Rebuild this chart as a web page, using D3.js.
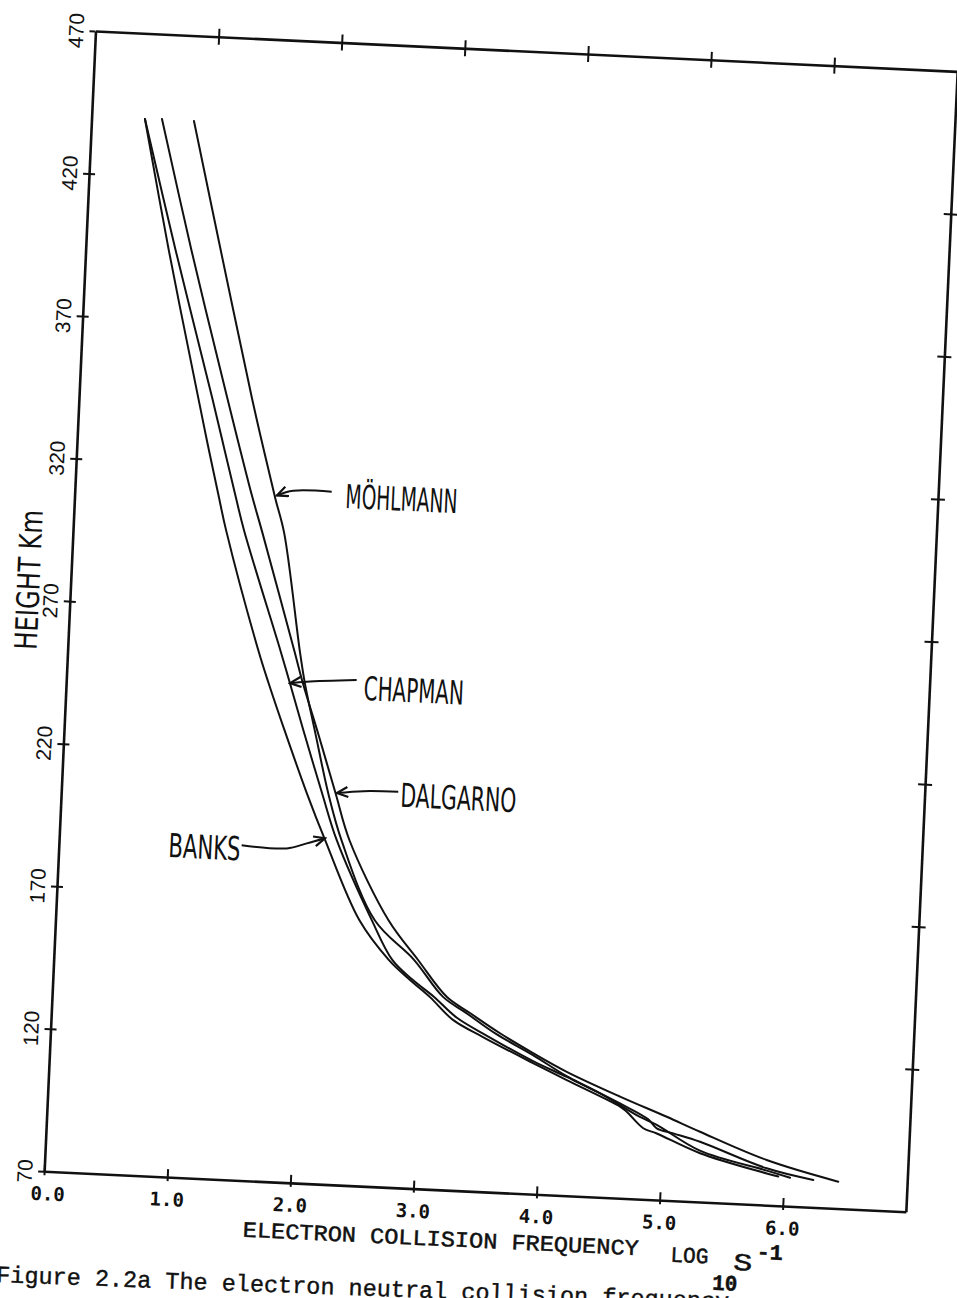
<!DOCTYPE html>
<html>
<head>
<meta charset="utf-8">
<script src="https://cdn.jsdelivr.net/npm/d3@7"></script>
<style>
  html, body { margin: 0; padding: 0; background: #fff; }
  svg { display: block; }
</style>
</head>
<body>
<script>
// Height axis (km) and collision-frequency axis (log10 s^-1)
const heightTicks = [70, 120, 170, 220, 270, 320, 370, 420, 470];
const heightInnerTicks = [120, 170, 220, 270, 320, 370, 420];
const freqTicks = [0, 1, 2, 3, 4, 5, 6];
const freqTickLabels = ["0.0", "1.0", "2.0", "3.0", "4.0", "5.0", "6.0"];
const freqTopTicks = [1, 2, 3, 4, 5, 6];

// Each profile: [log10 collision frequency, height km]
const banks = [
  [0.433, 440], [0.674, 394.5], [0.965, 343.6], [1.072, 325.2], [1.166, 309.6],
  [1.240, 297.5], [1.545, 256.0], [1.640, 244.7], [1.796, 227.4], [1.990, 206.8],
  [2.156, 190.6], [2.463, 163.1], [2.718, 149.6], [2.896, 143.0], [3.064, 137.3],
  [3.259, 129.7], [3.508, 124.2], [3.923, 115.9], [4.203, 110.5], [4.645, 102.1],
  [4.701, 100.4], [4.841, 94.9], [4.952, 93.3], [5.310, 87.1], [5.858, 81.1],
  [5.953, 80.2]
];
const chapman = [
  [0.433, 440], [0.730, 394.5], [1.078, 343.8], [1.201, 325.2], [1.305, 309.5],
  [1.388, 297.4], [1.725, 256.2], [1.815, 244.8], [1.950, 227.4], [2.115, 206.9],
  [2.251, 190.7], [2.564, 163.3], [2.745, 149.7], [2.920, 143.0], [3.095, 137.5],
  [3.290, 130.5], [3.540, 124.7], [3.923, 116.6], [4.202, 111.6], [4.478, 106.4],
  [4.810, 98.8], [4.949, 96.3], [5.308, 88.0], [5.857, 82.1], [6.049, 80.0]
];
const dalgarno = [
  [0.571, 440.3], [0.860, 394.5], [1.200, 344.0], [1.330, 325.2], [1.441, 309.5],
  [1.534, 297.4], [1.838, 256.3], [1.920, 245.0], [2.064, 227.4], [2.225, 207.0],
  [2.355, 190.8], [2.700, 163.5], [2.954, 150.1], [3.202, 137.6], [3.394, 132.4],
  [3.645, 125.8], [3.920, 119.4], [4.200, 113.4], [4.641, 105.6], [5.027, 99.3],
  [5.302, 94.6], [5.853, 85.8], [6.441, 79.4]
];
const mohlmann = [
  [0.831, 440.1], [1.100, 394.5], [1.402, 344.1], [1.523, 325.2], [1.629, 309.2],
  [1.713, 297.3], [1.884, 256.0], [1.936, 245.0], [2.041, 227.4], [2.165, 207.0],
  [2.290, 190.7], [2.590, 163.2], [2.921, 150.1], [3.170, 137.6], [3.362, 132.4],
  [3.613, 125.5], [3.920, 118.7], [4.201, 111.9], [4.643, 103.2], [4.878, 98.1],
  [4.950, 95.1], [5.086, 93.6], [5.306, 91.1], [5.856, 82.9], [6.238, 79.6]
];

// Curve labels and the arrows that point at them (data units)
const labelNames = ["MÖHLMANN", "CHAPMAN", "DALGARNO", "BANKS"];
const labelAnchors = [[2.197, 307.1], [2.415, 240.2], [2.751, 203.4], [0.889, 182.0]];
const labelWidths = [112, 100, 116, 72];
const arrowPaths = [
  [[2.083, 312.6], [1.771, 312.3], [1.640, 310.4]],
  [[2.354, 247.1], [1.950, 245.7], [1.815, 244.9]],
  [[2.732, 208.7], [2.450, 208.3], [2.235, 207.2]],
  [[1.482, 187.4], [1.848, 187.0], [2.009, 189.1], [2.155, 191.2]]
];

const pageW = 957, pageH = 1298;
const W = 862, H = 1141;
const ink = "#111";

const svg = d3.select("body").append("svg")
  .attr("width", pageW).attr("height", pageH)
  .attr("viewBox", `0 0 ${pageW} ${pageH}`);

svg.append("rect").attr("width", pageW).attr("height", pageH).attr("fill", "#fff");

const x = d3.scaleLinear().domain([0, 7]).range([0, W]);
const y = d3.scaleLinear().domain([70, 470]).range([H, 0]);

// The whole plotted sheet sits slightly tilted on the page
const g = svg.append("g")
  .attr("transform", "matrix(0.99965,0.04687,-0.0450,0.99943,95.5,30.95)");

function styleAxis(sel) {
  sel.select(".domain").attr("stroke", ink).attr("stroke-width", 2.6);
  sel.selectAll(".tick line").attr("stroke", ink).attr("stroke-width", 2);
}

// Left axis: crossed ticks, labels turned on their side
const axisL = g.append("g")
  .call(d3.axisLeft(y).tickValues(heightTicks).tickSizeOuter(0).tickFormat(d => String(d)));
styleAxis(axisL);
axisL.selectAll(".tick line").attr("x1", -6).attr("x2", 6);
axisL.selectAll(".tick").filter(d => d === 70 || d === 470).select("line").attr("x2", 0);
axisL.selectAll(".tick text")
  .attr("x", null).attr("dy", null)
  .attr("transform", "translate(-12,0) rotate(-90)")
  .attr("text-anchor", "middle")
  .attr("fill", ink)
  .style("font-family", "'Liberation Sans', Arial, sans-serif")
  .style("font-size", "21px");

// Bottom axis
const axisB = g.append("g").attr("transform", `translate(0,${H})`)
  .call(d3.axisBottom(x).tickValues(freqTicks).tickSizeOuter(0)
    .tickFormat((d, i) => freqTickLabels[i]));
styleAxis(axisB);
axisB.selectAll(".tick line").attr("y1", -8).attr("y2", 4);
axisB.selectAll(".tick text")
  .attr("y", 29).attr("dy", null)
  .attr("dx", d => (d === 0 ? 4 : 0))
  .attr("fill", ink)
  .style("font-family", "'DejaVu Sans Mono', 'Liberation Mono', monospace")
  .style("font-weight", "bold")
  .style("font-size", "19px");

// Top and right axes carry ticks only
const axisT = g.append("g")
  .call(d3.axisTop(x).tickValues(freqTopTicks).tickSizeOuter(0).tickFormat(""));
styleAxis(axisT);
axisT.selectAll(".tick line").attr("y1", -8).attr("y2", 8);

const axisR = g.append("g").attr("transform", `translate(${W},0)`)
  .call(d3.axisRight(y).tickValues(heightInnerTicks).tickSizeOuter(0).tickFormat(""));
styleAxis(axisR);
axisR.selectAll(".tick line").attr("x1", -7).attr("x2", 7);

// Profiles
const line = d3.line()
  .x(d => x(d[0])).y(d => y(d[1]))
  .curve(d3.curveCatmullRom.alpha(0.5));

g.append("g")
  .selectAll("path")
  .data([banks, chapman, dalgarno, mohlmann])
  .join("path")
  .attr("d", line)
  .attr("fill", "none")
  .attr("stroke", ink)
  .attr("stroke-width", 2)
  .attr("stroke-linejoin", "round")
  .attr("stroke-linecap", "round");

// Arrow heads
svg.append("defs").append("marker")
  .attr("id", "head")
  .attr("viewBox", "-12 -6 14 12")
  .attr("refX", 0).attr("refY", 0)
  .attr("markerWidth", 14).attr("markerHeight", 12)
  .attr("markerUnits", "userSpaceOnUse")
  .attr("orient", "auto")
  .append("path")
  .attr("d", "M-11,-5 L0,0 L-11,5")
  .attr("fill", "none")
  .attr("stroke", ink)
  .attr("stroke-width", 2.2)
  .attr("stroke-linejoin", "miter");

const arrowLine = d3.line()
  .x(d => x(d[0])).y(d => y(d[1]))
  .curve(d3.curveCatmullRom.alpha(0.5));

g.append("g")
  .selectAll("path")
  .data(arrowPaths)
  .join("path")
  .attr("d", arrowLine)
  .attr("fill", "none")
  .attr("stroke", ink)
  .attr("stroke-width", 2)
  .attr("marker-end", "url(#head)");

g.append("g")
  .selectAll("text")
  .data(labelNames)
  .join("text")
  .attr("x", (d, i) => x(labelAnchors[i][0]))
  .attr("y", (d, i) => y(labelAnchors[i][1]))
  .attr("textLength", (d, i) => labelWidths[i])
  .attr("lengthAdjust", "spacingAndGlyphs")
  .attr("fill", ink)
  .style("font-family", "'DejaVu Sans Condensed', 'Liberation Sans Narrow', 'DejaVu Sans', sans-serif")
  .style("font-size", "33px")
  .text(d => d);

// Axis titles
g.append("text")
  .attr("transform", `translate(-31,${H * 0.483}) rotate(-90)`)
  .attr("text-anchor", "middle")
  .attr("textLength", 140)
  .attr("lengthAdjust", "spacingAndGlyphs")
  .attr("fill", ink)
  .style("font-family", "'DejaVu Sans Condensed', 'DejaVu Sans', sans-serif")
  .style("font-size", "31px")
  .text("HEIGHT Km");

const mono = "'Liberation Mono', 'Courier New', monospace";
const titleParts = [
  { t: "ELECTRON COLLISION FREQUENCY", x: 201, dy: 56, w: 396, size: 22, weight: "normal" },
  { t: "LOG", x: 629, dy: 61, w: 38, size: 22, weight: "normal" },
  { t: "S", x: 692, dy: 66, w: 19, size: 24, weight: "normal" },
  { t: "-1", x: 715, dy: 54, w: 26, size: 22, weight: "bold" },
  { t: "10", x: 672, dy: 87, w: 25, size: 22, weight: "bold" }
];
g.append("g")
  .selectAll("text")
  .data(titleParts)
  .join("text")
  .attr("x", d => d.x)
  .attr("y", d => H + d.dy)
  .attr("textLength", d => d.w)
  .attr("lengthAdjust", "spacingAndGlyphs")
  .attr("fill", ink)
  .attr("stroke", ink)
  .attr("stroke-width", 0.5)
  .style("font-family", mono)
  .style("font-size", d => d.size + "px")
  .style("font-weight", d => d.weight)
  .text(d => d.t);

// Caption line, typed under the plot (runs off the foot of the sheet)
svg.append("text")
  .attr("transform", "translate(-4,1282) rotate(2.1)")
  .attr("fill", ink)
  .attr("stroke", ink)
  .attr("stroke-width", 0.4)
  .style("font-family", mono)
  .style("font-size", "23.5px")
  .text("Figure 2.2a The electron neutral collision frequency");
</script>
</body>
</html>
